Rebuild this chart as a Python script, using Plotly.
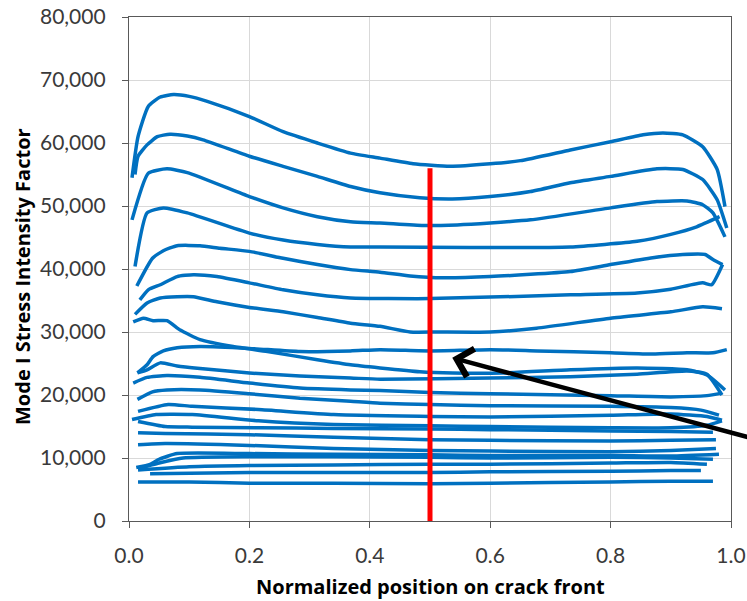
import plotly.graph_objects as go

# Mode I stress intensity factor along the normalized crack front,
# one curve per crack-growth step (largest first).
pos_01 = [0.005, 0.015, 0.032, 0.052, 0.074, 0.10, 0.13, 0.20, 0.256, 0.313, 0.368, 0.417, 0.472, 0.533, 0.60, 0.65, 0.733, 0.80, 0.854, 0.887, 0.92, 0.953, 0.977, 0.99]
sif_01 = [54500, 61000, 65800, 67300, 67700, 67400, 66600, 64200, 61800, 60000, 58400, 57600, 56700, 56300, 56700, 57200, 58900, 60200, 61300, 61600, 61300, 59400, 55800, 49900]

pos_02 = [0.01, 0.015, 0.03, 0.047, 0.068, 0.097, 0.123, 0.20, 0.256, 0.313, 0.368, 0.417, 0.483, 0.537, 0.60, 0.667, 0.733, 0.80, 0.877, 0.92, 0.953, 0.977, 0.993]
sif_02 = [55000, 57900, 59700, 61000, 61400, 61100, 60500, 57900, 56300, 54700, 53100, 52100, 51300, 51100, 51500, 52300, 53700, 54700, 55900, 55800, 54200, 51000, 46500]

pos_03 = [0.005, 0.032, 0.063, 0.097, 0.20, 0.256, 0.313, 0.368, 0.417, 0.489, 0.545, 0.60, 0.667, 0.80, 0.877, 0.927, 0.953, 0.97, 0.99]
sif_03 = [47800, 55200, 55900, 55300, 51500, 49700, 48300, 47500, 47300, 46900, 47000, 47300, 47800, 49700, 50700, 50800, 50200, 48900, 45100]

pos_04 = [0.01, 0.03, 0.057, 0.097, 0.20, 0.256, 0.313, 0.368, 0.417, 0.566, 0.733, 0.844, 0.90, 0.943, 0.981]
sif_04 = [40400, 48900, 49700, 48900, 45700, 44600, 43900, 43500, 43500, 43400, 43500, 44400, 45500, 46700, 48300]

pos_05 = [0.013, 0.039, 0.057, 0.08, 0.118, 0.151, 0.20, 0.256, 0.313, 0.368, 0.417, 0.467, 0.522, 0.60, 0.733, 0.80, 0.87, 0.92, 0.957, 0.97, 0.986]
sif_05 = [37300, 41700, 42900, 43700, 43700, 43300, 42800, 41700, 40700, 39900, 39500, 38900, 38600, 38800, 39600, 40700, 41800, 42300, 42300, 41500, 40700]

pos_06 = [0.018, 0.032, 0.052, 0.08, 0.107, 0.146, 0.20, 0.256, 0.313, 0.368, 0.50, 0.733, 0.844, 0.90, 0.953, 0.968, 0.986]
sif_06 = [35100, 36700, 37500, 38800, 39100, 38800, 37800, 36700, 35900, 35400, 35300, 35900, 36200, 36800, 37800, 37500, 40700]

pos_07 = [0.01, 0.03, 0.052, 0.08, 0.107, 0.146, 0.20, 0.256, 0.313, 0.368, 0.417, 0.467, 0.512, 0.60, 0.677, 0.80, 0.90, 0.953, 0.985]
sif_07 = [32800, 34600, 35400, 35600, 35600, 34800, 33900, 33200, 32300, 31400, 30900, 30000, 30000, 30000, 30600, 32200, 33200, 34000, 33700]

pos_08 = [0.007, 0.024, 0.04, 0.063, 0.085, 0.118, 0.173, 0.23, 0.313, 0.368, 0.417, 0.483, 0.538, 0.62, 0.733, 0.844, 0.927, 0.96, 0.99]
sif_08 = [31600, 32200, 31800, 31800, 30300, 28800, 27700, 26900, 25600, 24800, 24300, 23700, 23500, 23500, 24000, 24300, 24000, 23200, 20800]

pos_09 = [0.014, 0.03, 0.04, 0.057, 0.08, 0.118, 0.20, 0.284, 0.368, 0.417, 0.50, 0.60, 0.678, 0.80, 0.87, 0.927, 0.97, 0.993]
sif_09 = [23500, 24800, 26100, 27000, 27500, 27700, 27400, 26900, 27000, 27200, 27000, 27200, 27000, 26700, 26500, 26700, 26700, 27200]

pos_10 = [0.014, 0.03, 0.052, 0.08, 0.118, 0.20, 0.284, 0.368, 0.417, 0.60, 0.733, 0.844, 0.927, 0.96, 0.985]
sif_10 = [23500, 24000, 25100, 24600, 24200, 23500, 23000, 22700, 22500, 22700, 22900, 23300, 23800, 23300, 20000]

pos_11 = [0.007, 0.03, 0.063, 0.118, 0.20, 0.284, 0.368, 0.417, 0.50, 0.60, 0.80, 0.90, 0.96, 0.985]
sif_11 = [21900, 22800, 23100, 22800, 21900, 21100, 20800, 20700, 20400, 20200, 19900, 19700, 19900, 20300]

pos_12 = [0.014, 0.039, 0.063, 0.118, 0.20, 0.284, 0.368, 0.417, 0.50, 0.60, 0.80, 0.90, 0.95, 0.98]
sif_12 = [19300, 20500, 20800, 20800, 20200, 19500, 19000, 18700, 18500, 18300, 18200, 18000, 17600, 16800]

pos_13 = [0.015, 0.065, 0.105, 0.215, 0.34, 0.50, 0.60, 0.80, 0.90, 0.96, 0.985]
sif_13 = [17400, 18500, 18200, 17700, 16900, 16600, 16500, 16800, 17000, 16600, 16000]

pos_14 = [0.005, 0.045, 0.105, 0.215, 0.34, 0.50, 0.60, 0.80, 0.90, 0.96, 0.985]
sif_14 = [16100, 16900, 16900, 15900, 15300, 15100, 15000, 14800, 14800, 15200, 15900]

pos_15 = [0.015, 0.06, 0.105, 0.215, 0.34, 0.50, 0.60, 0.80, 0.90, 0.97]
sif_15 = [15800, 15000, 14900, 14800, 14700, 14600, 14500, 14300, 14200, 14100]

pos_16 = [0.015, 0.06, 0.20, 0.34, 0.50, 0.60, 0.80, 0.90, 0.975]
sif_16 = [14000, 13900, 13700, 13300, 12900, 12800, 12700, 12800, 12900]

pos_17 = [0.015, 0.06, 0.20, 0.34, 0.50, 0.60, 0.80, 0.90, 0.975]
sif_17 = [12100, 12300, 12000, 11500, 11200, 11100, 11000, 11200, 11500]

pos_18 = [0.012, 0.035, 0.05, 0.08, 0.20, 0.34, 0.50, 0.60, 0.80, 0.90, 0.98]
sif_18 = [8500, 9000, 9800, 10700, 10700, 10600, 10500, 10400, 10400, 10300, 10600]

pos_19 = [0.015, 0.05, 0.09, 0.20, 0.34, 0.50, 0.60, 0.80, 0.90, 0.97]
sif_19 = [8300, 9200, 10000, 10200, 10200, 10100, 10000, 10100, 10000, 9800]

pos_20 = [0.015, 0.10, 0.20, 0.34, 0.50, 0.60, 0.80, 0.90, 0.96]
sif_20 = [8100, 8600, 8800, 8900, 9000, 9000, 9200, 9300, 9000]

pos_21 = [0.035, 0.20, 0.34, 0.50, 0.60, 0.80, 0.90, 0.95]
sif_21 = [7500, 7700, 7700, 7700, 7800, 7900, 8000, 8000]

pos_22 = [0.015, 0.10, 0.20, 0.34, 0.50, 0.60, 0.80, 0.90, 0.97]
sif_22 = [6200, 6200, 6000, 6000, 5900, 6000, 6200, 6300, 6300]

# Mid-front marker and the highlighted curve the arrow points at
mid_front = 0.5
mid_front_top = 56000
arrow_tip = (0.537, 25900)
arrow_tail = (1.031, 13250)

x_ticks = [0.0, 0.2, 0.4, 0.6, 0.8, 1.0]
y_ticks = [0, 10000, 20000, 30000, 40000, 50000, 60000, 70000, 80000]

curves = [
    (pos_01, sif_01), (pos_02, sif_02), (pos_03, sif_03), (pos_04, sif_04),
    (pos_05, sif_05), (pos_06, sif_06), (pos_07, sif_07), (pos_08, sif_08),
    (pos_09, sif_09), (pos_10, sif_10), (pos_11, sif_11), (pos_12, sif_12),
    (pos_13, sif_13), (pos_14, sif_14), (pos_15, sif_15), (pos_16, sif_16),
    (pos_17, sif_17), (pos_18, sif_18), (pos_19, sif_19), (pos_20, sif_20),
    (pos_21, sif_21), (pos_22, sif_22),
]

BLUE = "#0070C0"
TICK_FONT = "Lato"
TITLE_FONT = "Open Sans"

fig = go.Figure()
for xs, ys in curves:
    fig.add_trace(go.Scatter(
        x=xs, y=ys, mode="lines",
        line=dict(color=BLUE, width=3.5, shape="spline", smoothing=0.5),
        showlegend=False, hoverinfo="skip",
    ))

fig.add_trace(go.Scatter(
    x=[mid_front, mid_front], y=[0, mid_front_top], mode="lines",
    line=dict(color="#FF0000", width=5),
    showlegend=False, hoverinfo="skip",
))

fig.add_annotation(
    x=arrow_tip[0], y=arrow_tip[1], ax=arrow_tail[0], ay=arrow_tail[1],
    xref="x", yref="y", axref="x", ayref="y",
    text="", showarrow=True, arrowhead=4, arrowsize=1.25,
    arrowwidth=4.5, arrowcolor="black",
)

# Axis titles
fig.add_annotation(
    text="<b>Normalized position on crack front</b>",
    xref="paper", yref="paper", x=0.5, y=0, yshift=-65,
    xanchor="center", yanchor="middle", showarrow=False,
    font=dict(family=TITLE_FONT, size=20, color="#000000"),
)
fig.add_annotation(
    text="<b>Mode I Stress Intensity Factor</b>",
    xref="paper", yref="paper", x=0, y=0.5, xshift=-107, yshift=-8,
    xanchor="center", yanchor="middle", textangle=-90, showarrow=False,
    font=dict(family=TITLE_FONT, size=20, color="#000000"),
)

axis_common = dict(
    showgrid=True, gridcolor="#D9D9D9", gridwidth=1,
    showline=True, linecolor="#595959", linewidth=1.3, mirror=True,
    ticks="outside", ticklen=6, tickcolor="#595959", tickwidth=1.3,
    zeroline=False, automargin=False,
    tickfont=dict(family=TICK_FONT, size=21, color="#3A3A3A"),
)

fig.update_layout(
    width=747, height=601,
    margin=dict(l=129, r=16, t=17, b=80, autoexpand=False),
    paper_bgcolor="white", plot_bgcolor="white",
    xaxis=dict(range=[0, 1], tickvals=x_ticks, tickformat=".1f", ticklabelstandoff=10, **axis_common),
    yaxis=dict(range=[0, 80000], tickvals=y_ticks, tickformat=",d", ticklabelstandoff=12, **axis_common),
)

fig.write_html("out.html")
